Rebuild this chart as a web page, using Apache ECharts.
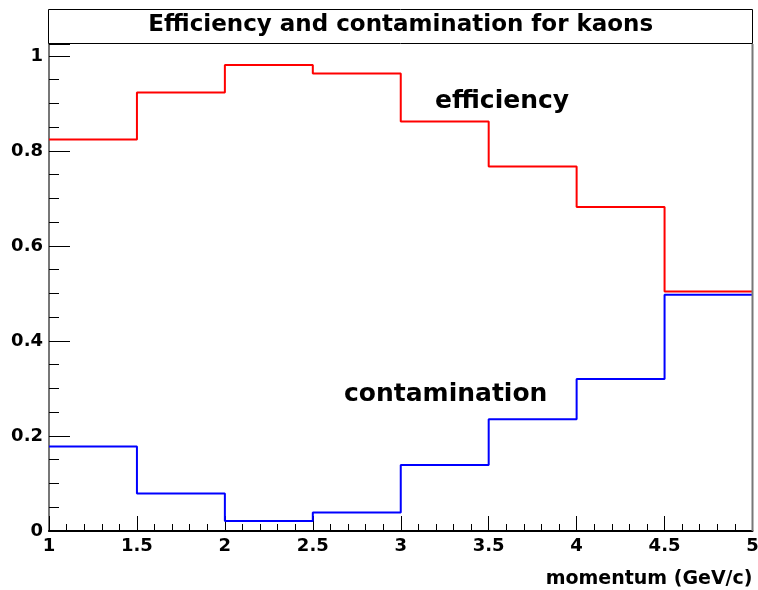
<!DOCTYPE html>
<html>
<head>
<meta charset="utf-8">
<script src="https://cdn.jsdelivr.net/npm/echarts@6/dist/echarts.min.js"></script>
<style>
  html, body { margin: 0; padding: 0; background: #fff; }
  #chart { width: 758px; height: 590px; }
</style>
</head>
<body>
<div id="chart"></div>
<script>
// bin edges of the histograms (momentum, GeV/c)
const binEdges = [1, 1.5, 2, 2.5, 3, 3.5, 4, 4.5, 5];
// one value per bin
const efficiency = [0.824, 0.923, 0.981, 0.963, 0.862, 0.767, 0.682, 0.504];
const contamination = [0.178, 0.079, 0.021, 0.039, 0.139, 0.235, 0.320, 0.497];

const FONT = "DejaVu Sans";

// histogram as step line: value held from the low edge to the high edge
function histData(values) {
  const pts = values.map((v, i) => [binEdges[i], v]);
  pts.push([binEdges[binEdges.length - 1], values[values.length - 1]]);
  return pts;
}

const contenedor = document.getElementById("chart");
const myChart = echarts.init(contenedor);

// plot frame in pixels
const frameLeft = 49, frameRight = 752.5, frameTop = 44, frameBottom = 531;

var option = {
  animation: false,
  grid: {
    left: frameLeft,
    right: 758 - frameRight,
    top: frameTop,
    bottom: 590 - frameBottom,
    containLabel: false,
    outerBoundsMode: "none",
  },
  xAxis: {
    type: "value",
    min: 1,
    max: 5,
    interval: 0.5,
    axisLine: { show: true, onZero: false, lineStyle: { color: "#000", width: 2 } },
    axisTick: { inside: true, length: 15, lineStyle: { color: "#000", width: 1 } },
    minorTick: { show: true, splitNumber: 5, length: 7, lineStyle: { color: "#000", width: 1 } },
    splitLine: { show: false },
    axisLabel: {
      margin: 6,
      color: "#000",
      fontFamily: FONT,
      fontWeight: "bold",
      fontSize: 18,
    },
  },
  yAxis: {
    type: "value",
    min: 0,
    max: 1.025,
    interval: 0.2,
    axisLine: { show: true, onZero: false, lineStyle: { color: "#777", width: 2 } },
    axisTick: { inside: true, length: 21, lineStyle: { color: "#000", width: 1 } },
    minorTick: { show: true, splitNumber: 4, length: 10, lineStyle: { color: "#000", width: 1 } },
    splitLine: { show: false },
    axisLabel: {
      margin: 6,
      color: "#000",
      fontFamily: FONT,
      fontWeight: "bold",
      fontSize: 18,
      showMaxLabel: false,
      formatter: function (v) {
        return Math.abs(v * 5 - Math.round(v * 5)) < 1e-6 ? String(+v.toFixed(1)) : "";
      },
    },
  },
  series: [
    {
      name: "efficiency",
      type: "line",
      step: "end",
      symbol: "none",
      lineStyle: { color: "#ff0000", width: 2 },
      data: histData(efficiency),
    },
    {
      name: "contamination",
      type: "line",
      step: "end",
      symbol: "none",
      lineStyle: { color: "#0000ff", width: 2 },
      data: histData(contamination),
    },
  ],
  graphic: [
    // right frame border
    {
      type: "line",
      z: 100,
      shape: { x1: frameRight, y1: frameTop, x2: frameRight, y2: frameBottom },
      style: { stroke: "#777", lineWidth: 2 },
      silent: true,
    },
    // title box (its bottom edge is the top of the frame)
    {
      type: "rect",
      z: 100,
      shape: { x: frameLeft - 0.5, y: 9.5, width: frameRight - frameLeft + 0.5, height: 34 },
      style: { fill: "#fff", stroke: "#000", lineWidth: 1 },
      silent: true,
    },
    {
      type: "text",
      z: 101,
      x: (frameLeft + frameRight) / 2,
      y: 25,
      style: {
        text: "Efficiency and contamination for kaons",
        font: "bold 23px " + FONT,
        fill: "#000",
        align: "center",
        verticalAlign: "middle",
      },
      silent: true,
    },
    {
      type: "text",
      x: 435,
      y: 101,
      style: {
        text: "efficiency",
        font: "bold 25px " + FONT,
        fill: "#000",
        align: "left",
        verticalAlign: "middle",
      },
      silent: true,
    },
    {
      type: "text",
      x: 344,
      y: 394,
      style: {
        text: "contamination",
        font: "bold 25px " + FONT,
        fill: "#000",
        align: "left",
        verticalAlign: "middle",
      },
      silent: true,
    },
    {
      type: "text",
      x: frameRight,
      y: 579,
      style: {
        text: "momentum (GeV/c)",
        font: "bold 19px " + FONT,
        fill: "#000",
        align: "right",
        verticalAlign: "middle",
      },
      silent: true,
    },
  ],
};

myChart.setOption(option);
</script>
</body>
</html>
